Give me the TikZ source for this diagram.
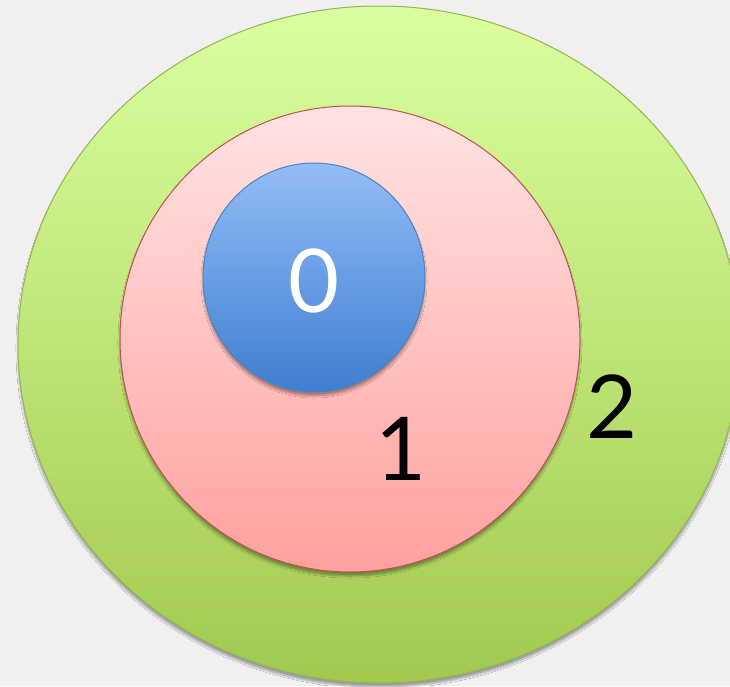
\documentclass[tikz,border=0pt]{standalone}
\usepackage{fontspec}
\setmainfont{Lato}
\usetikzlibrary{shadows.blur}
\definecolor{bgc}{HTML}{F0F0F0}
\definecolor{gtop}{HTML}{DBFFA0}
\definecolor{gbot}{HTML}{A2C94E}
\definecolor{gedge}{HTML}{92B552}
\definecolor{ptop}{HTML}{FFE3E3}
\definecolor{pbot}{HTML}{FFA19E}
\definecolor{pedge}{HTML}{C0504D}
\definecolor{btop}{HTML}{93BDF7}
\definecolor{bbot}{HTML}{3F7ED0}
\definecolor{bedge}{HTML}{4F81BD}
\tikzset{
  ring/.style={line width=1pt, blur shadow={shadow xshift=0pt, shadow yshift=-4pt, shadow blur steps=8, shadow opacity=35}},
  lbl/.style={font=\fontsize{88}{90}\selectfont, inner sep=0pt}
}
\begin{document}
\begin{tikzpicture}[x=1pt,y=-1pt]
\fill[bgc] (0,0) rectangle (730,686);
\useasboundingbox (0,0) rectangle (730,686);
\clip (0,0) rectangle (730,686);
\path[ring, draw=gedge, top color=gtop, bottom color=gbot] (379,344.5) ellipse [x radius=361, y radius=338.5];
\path[ring, draw=pedge, top color=ptop, bottom color=pbot] (350,339) ellipse [x radius=230, y radius=233];
\path[ring, draw=bedge, top color=btop, bottom color=bbot] (314,277.5) ellipse [x radius=111, y radius=114.5];
\node[lbl, text=white] (zero) at (314,281) {0};
\node[lbl, text=black] (one) at (401,449) {1};
\node[lbl, text=black] (two) at (612,407) {2};
\end{tikzpicture}
\end{document}
